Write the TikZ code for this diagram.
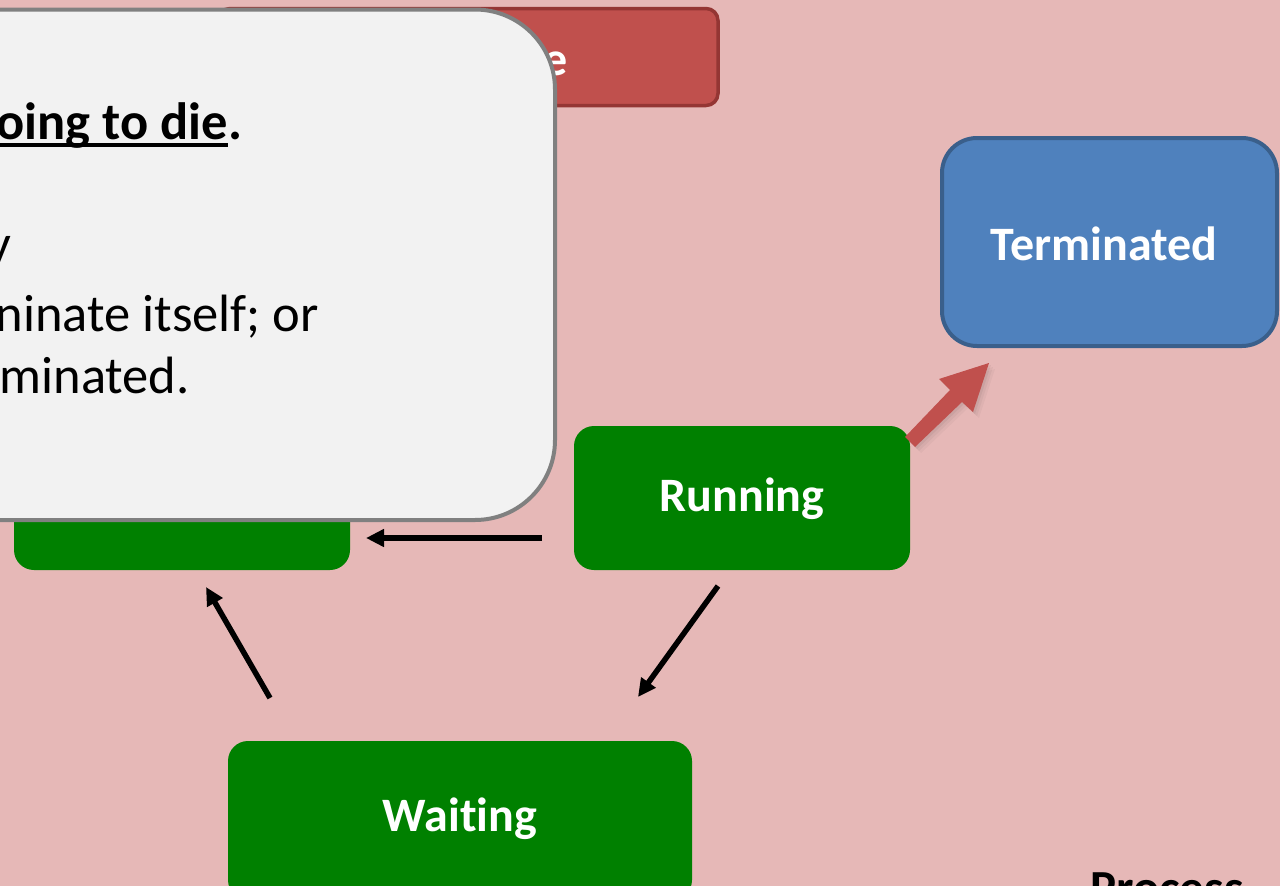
\documentclass[tikz,border=0pt]{standalone}
\usepackage{fontspec}
\setmainfont{Carlito}[Ligatures=NoCommon]
\usetikzlibrary{arrows.meta,calc}
\definecolor{bgpink}{HTML}{E6B8B7}
\definecolor{redfill}{HTML}{C0504D}
\definecolor{redline}{HTML}{943634}
\definecolor{callfill}{HTML}{F2F2F2}
\definecolor{callline}{HTML}{808080}
\definecolor{stategreen}{HTML}{008000}
\definecolor{bluefill}{HTML}{4F81BD}
\definecolor{blueline}{HTML}{3A5F8B}
\tikzset{
  greenbox/.style={fill=stategreen, rounded corners=20pt},
  statetext/.style={text=white, font=\bfseries\fontsize{48}{56}\selectfont, inner sep=0pt},
  calltext/.style={text=black, font=\fontsize{52.5}{63}\selectfont, inner sep=0pt},
  callbold/.style={calltext, font=\bfseries\fontsize{52.5}{63}\selectfont},
  blackarrow/.style={line width=5.5pt, -{Triangle[width=17pt,length=18pt]}},
}
\begin{document}
\begin{tikzpicture}[x=1pt,y=-1pt]
\useasboundingbox (0,0) rectangle (1280,886);
\clip (0,0) rectangle (1280,886);
\fill[bgpink] (0,0) rectangle (1280,886);

% red box (partly hidden)
\draw[fill=redfill, draw=redline, line width=3.5pt, rounded corners=12pt] (218,8.5) rectangle (718,105.5);
\node[statetext, anchor=base east] (redtxt) at (568,75) {e};

% left green box (hidden behind callout)
\fill[greenbox] (14,427) rectangle (350,570);

% Running
\fill[greenbox] (574,426) rectangle (910,570);
\node[statetext] (running) at (742,499) {Running};

% Waiting
\fill[greenbox] (228,741) rectangle (692,900);
\node[statetext] (waiting) at (460,819) {Waiting};

% Terminated
\draw[fill=bluefill, draw=blueline, line width=4pt, rounded corners=35pt] (942,138) rectangle (1277,346);
\node[statetext] (terminated) at (1104,244) {Terminated};

% arrows
\coordinate (a1s) at (542,538);
\coordinate (a1e) at (366,538);
\coordinate (a2s) at (270,698);
\coordinate (a2e) at (206,587);
\coordinate (a3s) at (718,586);
\coordinate (a3e) at (638,697);
\draw[blackarrow] (a1s) -- (a1e);
\draw[blackarrow] (a2s) -- (a2e);
\draw[blackarrow] (a3s) -- (a3e);

% red block arrow with soft shadow
\foreach \o/\op in {6/0.03,4/0.04,2/0.05}{
\fill[black, opacity=\op] ($(905,437)+(\o,\o)$) -- ($(950,390)+(\o,\o)$) -- ($(939,379)+(\o,\o)$) -- ($(989,363)+(\o,\o)$) -- ($(973,412)+(\o,\o)$) -- ($(962,402)+(\o,\o)$) -- ($(915,447)+(\o,\o)$) -- cycle;
}
\fill[redfill] (905,437) -- (950,390) -- (939,379) -- (989,363) -- (973,412) -- (962,402) -- (915,447) -- cycle;

% callout
\draw[fill=callfill, draw=callline, line width=4pt, rounded corners=80pt] (-120,9.5) rectangle (555,520);
\node[callbold, anchor=base east] (l1) at (228,139) {oing to die};
\node[callbold, anchor=base west] (l1dot) at (l1.base east) {.};
\draw[line width=3.5pt] ([yshift=-6pt]l1.base west) -- ([yshift=-6pt]l1.base east);
\node[calltext, anchor=base east] (l2) at (11,261) {y};
\node[calltext, anchor=base east] (l3) at (319,331) {ninate itself; or};
\node[calltext, anchor=base east] (l4) at (190,393) {minated.};

% bottom right title (cut off)
\node[text=black, font=\bfseries\fontsize{49}{56}\selectfont, anchor=north west, inner sep=0pt] (proc) at (1090,873) {Process};
\end{tikzpicture}
\end{document}
